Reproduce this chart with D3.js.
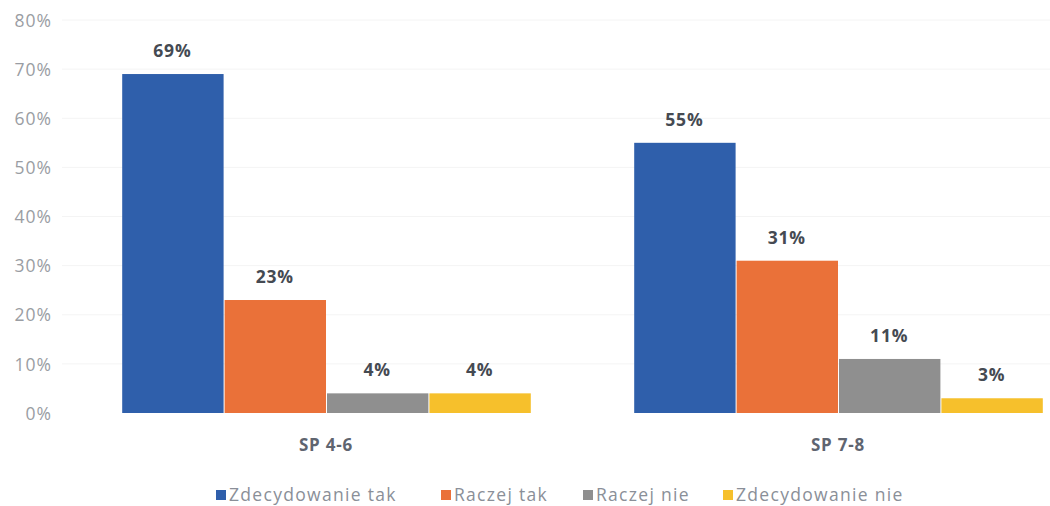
<!DOCTYPE html>
<html><head><meta charset="utf-8">
<script src="https://cdn.jsdelivr.net/npm/d3@7"></script>
<style>html,body{margin:0;padding:0;background:#fff;}</style>
</head><body>
<svg id="chart" width="1050" height="506"></svg>
<script>
const categories = ["SP 4-6", "SP 7-8"];
const seriesNames = ["Zdecydowanie tak", "Raczej tak", "Raczej nie", "Zdecydowanie nie"];
const zdecydowanieTak = [0.69, 0.55];
const raczejTak = [0.23, 0.31];
const raczejNie = [0.04, 0.11];
const zdecydowanieNie = [0.04, 0.03];
const yTicks = [0, 0.1, 0.2, 0.3, 0.4, 0.5, 0.6, 0.7, 0.8];
const colors = ["#2f5fab", "#ea7139", "#8f8f8f", "#f6c02c"];

const series = [zdecydowanieTak, raczejTak, raczejNie, zdecydowanieNie];
const font = "'Open Sans', 'Liberation Sans', sans-serif";
const svg = d3.select("#chart");

const y = d3.scaleLinear().domain([0, 0.8]).range([413, 20]);
const x0 = d3.scaleBand().domain(categories).range([70, 1094]).paddingInner(0.2).paddingOuter(0.1);
const x1 = d3.scaleBand().domain(seriesNames).range([0, x0.bandwidth()]).padding(0);

// gridlines (very faint)
svg.append("g").selectAll("line").data(yTicks.slice(1)).join("line")
  .attr("x1", 62).attr("x2", 1050)
  .attr("y1", d => y(d)).attr("y2", d => y(d))
  .attr("stroke", "#f4f4f4").attr("stroke-width", 1);

// y axis
const yAxis = d3.axisLeft(y).tickValues(yTicks).tickFormat(d3.format(".0%")).tickSize(0).tickPadding(0);
const ya = svg.append("g").attr("transform", "translate(52,0)").call(yAxis);
ya.select(".domain").remove();
ya.selectAll("text").attr("fill", "#9a9da3").attr("font-size", 17.5).attr("letter-spacing", 1)
  .attr("font-family", font).attr("dy", "0.35em");

// bars
const groups = svg.append("g").selectAll("g").data(categories).join("g")
  .attr("transform", c => `translate(${x0(c)},0)`);
groups.each(function(c, ci) {
  const g = d3.select(this);
  const data = seriesNames.map((s, si) => ({s, si, v: series[si][ci]}));
  g.selectAll("rect").data(data).join("rect")
    .attr("x", d => x1(d.s) + 1)
    .attr("width", x1.bandwidth() - 1)
    .attr("y", d => y(d.v))
    .attr("height", d => y(0) - y(d.v))
    .attr("fill", d => colors[d.si]);
  g.selectAll("text").data(data).join("text")
    .attr("x", d => x1(d.s) + x1.bandwidth() / 2)
    .attr("y", d => y(d.v) - 17)
    .attr("text-anchor", "middle")
    .attr("font-family", font).attr("font-weight", "bold").attr("font-size", 17.5)
    .attr("letter-spacing", 0.8)
    .attr("fill", "#454a52")
    .text(d => d3.format(".0%")(d.v));
});

// x axis labels
const xAxis = d3.axisBottom(x0).tickSize(0).tickPadding(0);
const xa = svg.append("g").attr("transform", "translate(0,445)").call(xAxis);
xa.select(".domain").remove();
xa.selectAll("text").attr("fill", "#5f6570").attr("font-size", 17).attr("letter-spacing", 0.8)
  .attr("font-weight", "bold").attr("font-family", font).attr("dy", "0.35em");

// legend
const legendX = [216, 441, 583, 723];
const leg = svg.append("g").selectAll("g").data(seriesNames).join("g")
  .attr("transform", (d, i) => `translate(${legendX[i]},495)`);
leg.append("rect").attr("x", 0).attr("y", -5).attr("width", 10).attr("height", 10).attr("fill", (d, i) => colors[i]);
leg.append("text").attr("x", 13).attr("y", 0).attr("dy", "0.35em")
  .attr("font-family", font).attr("font-size", 17.5).attr("letter-spacing", 1.3).attr("fill", "#8a8f98")
  .text(d => d);
</script>
</body></html>
